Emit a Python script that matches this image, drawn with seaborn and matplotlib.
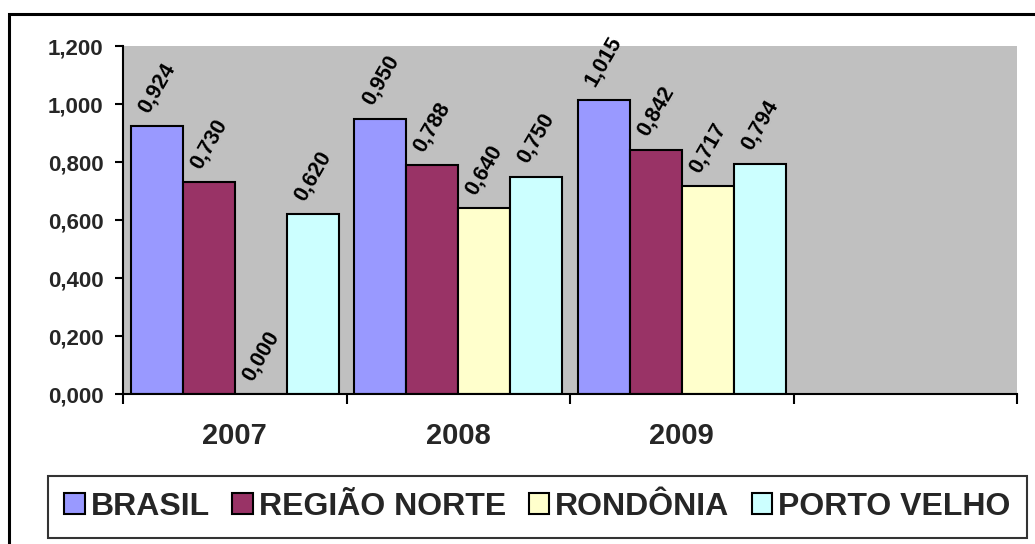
import matplotlib
matplotlib.use("Agg")
import matplotlib.pyplot as plt
from matplotlib.patches import Patch, Rectangle
from matplotlib.ticker import FuncFormatter, FixedLocator
import seaborn as sns
import pandas as pd

# ---- data ----
years = ["2007", "2008", "2009"]
slots = ["2007", "2008", "2009", ""]
series = ["BRASIL", "REGIÃO NORTE", "RONDÔNIA", "PORTO VELHO"]
brasil = [0.924, 0.950, 1.015]
regiao_norte = [0.730, 0.788, 0.842]
rondonia = [0.000, 0.640, 0.717]
porto_velho = [0.620, 0.750, 0.794]
colors = ["#9999FF", "#993366", "#FFFFCC", "#CCFFFF"]
yticks = [0.0, 0.2, 0.4, 0.6, 0.8, 1.0, 1.2]

rows = []
for name, vals in zip(series, [brasil, regiao_norte, rondonia, porto_velho]):
    for y, v in zip(years, vals):
        rows.append({"ano": y, "serie": name, "valor": v})
df = pd.DataFrame(rows)

sns.set_theme(style="white")
plt.rcParams["font.family"] = ["Liberation Sans", "DejaVu Sans"]
plt.rcParams["font.weight"] = "bold"

W, H = 1035, 544
fig = plt.figure(figsize=(W / 100, H / 100), dpi=100)
fig.patch.set_facecolor("white")
ax = fig.add_axes([123 / W, 1 - 394 / H, (1017 - 123) / W, (394 - 46) / H])
ax.set_facecolor("#C0C0C0")

sns.barplot(data=df, x="ano", y="valor", hue="serie", order=slots,
            hue_order=series, palette=colors, saturation=1, width=0.93,
            gap=0, edgecolor="black", linewidth=1.5, errorbar=None, ax=ax)

ax.set_xlim(-0.5, 3.5)
ax.set_ylim(0, 1.2)
ax.set_xlabel("")
ax.set_ylabel("")

# y axis
ax.yaxis.set_major_locator(FixedLocator(yticks))
ax.yaxis.set_major_formatter(FuncFormatter(lambda v, p: f"{v:.3f}".replace(".", ",")))
ax.tick_params(axis="y", which="major", direction="out", length=6, width=1.5,
               color="black", labelsize=16, pad=8, left=True)
for t in ax.get_yticklabels():
    t.set_fontweight("bold")

# x axis: labels at category centres, ticks at boundaries
ax.set_xticks(range(len(slots)))
ax.set_xticklabels(slots, fontsize=21, fontweight="bold")
ax.tick_params(axis="x", which="major", length=0, pad=20)
ax.set_xticks([-0.5, 0.5, 1.5, 2.5, 3.5], minor=True)
ax.tick_params(axis="x", which="minor", direction="out", length=7, width=1.5,
               color="black", bottom=True)

for s in ["top", "right"]:
    ax.spines[s].set_visible(False)
for s in ["left", "bottom"]:
    ax.spines[s].set_visible(True)
    ax.spines[s].set_color("black")
    ax.spines[s].set_linewidth(1.5)

# data labels
for cont in ax.containers:
    ax.bar_label(cont, fmt=lambda v: f"{v:.3f}".replace(".", ","),
                 rotation=60, padding=7, fontsize=15.5, fontweight="bold",
                 color="black")

# legend
leg0 = ax.get_legend()
if leg0 is not None:
    leg0.remove()
handles = [Patch(facecolor=c, edgecolor="black", linewidth=1.5) for c in colors]
leg = fig.legend(handles, series, loc="center", bbox_to_anchor=(537.5 / W, 1 - 507 / H),
                 ncol=4, frameon=True, fancybox=False, shadow=False,
                 prop={"size": 23, "weight": "bold"},
                 handlelength=0.63, handleheight=0.63, handletextpad=0.2,
                 columnspacing=0.7, borderpad=0.5, borderaxespad=0)
leg.get_frame().set_edgecolor("black")
leg.get_frame().set_linewidth(1.5)

# outer chart border
fig.patches.append(Rectangle((9 / W, -0.1), 1.2, 1.1 - 14 / H, transform=fig.transFigure,
                             fill=False, edgecolor="black", linewidth=2.2, clip_on=False))

fig.savefig("out.png", dpi=100)
